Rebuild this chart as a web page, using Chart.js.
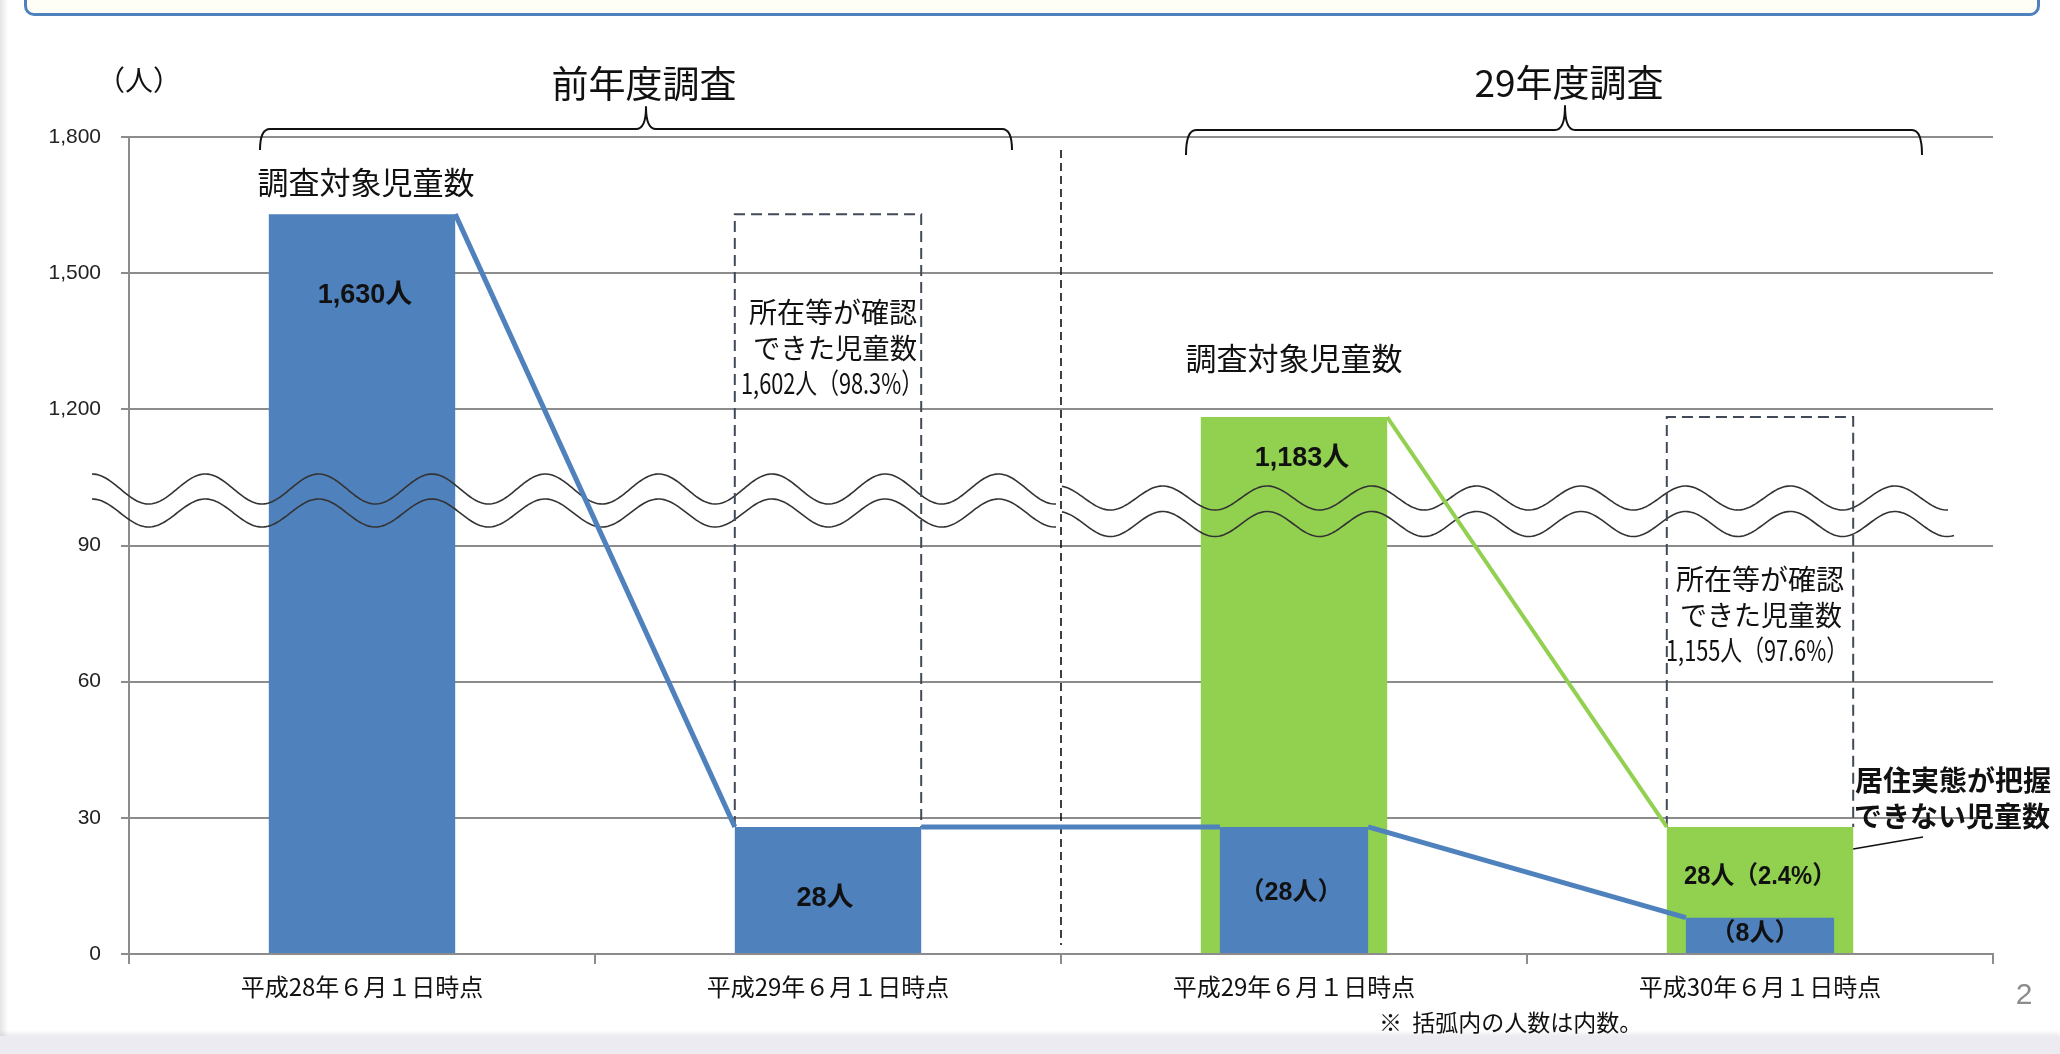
<!DOCTYPE html>
<html><head><meta charset="utf-8">
<script src="https://cdn.jsdelivr.net/npm/chart.js@4.4.1/dist/chart.umd.min.js"></script>
<style>
html,body{margin:0;padding:0;background:#fff;width:2060px;height:1054px;overflow:hidden;position:relative;}
#topbox{position:absolute;left:24px;top:-30px;width:2010px;height:40px;border:3px solid #4f81bd;border-radius:10px;background:#fffef6;}
#leftedge{position:absolute;left:0;top:0;width:8px;height:1036px;background:linear-gradient(to right,#e4e4e8,#ffffff);}
#bottomband{position:absolute;left:0;top:1036px;width:2060px;height:18px;background:#ebebf1;box-shadow:0 -3px 4px rgba(0,0,0,0.08);}
canvas{position:absolute;left:0;top:0;}
</style></head>
<body>
<div id="topbox"></div><div id="leftedge"></div><div id="bottomband"></div>
<canvas id="c" width="2060" height="1054"></canvas>
<script>
// ---- data ----
const categories = ['平成28年６月１日時点', '平成29年６月１日時点', '平成29年６月１日時点', '平成30年６月１日時点'];
const prevSurvey = [1630, 28, null, null];      // 前年度調査 (blue)
const currSurvey = [null, null, 1183, 28];      // 29年度調査 (green)
const innerCount = [null, null, 28, 8];         // 内数 (blue inside green)
const confirmedCount = [null, 1602, null, 1155]; // 所在等が確認できた児童数 (dashed box)
const yTickLabels = ['0', '30', '60', '90', '1,200', '1,500', '1,800'];

// broken axis: 0-100 linear, upper part 1,200-1,800 compressed by 10
function toAxis(v) { if (v == null) return null; return v <= 100 ? v : 120 + (v - 1200) / 10; }

const CJK = '"Noto Sans CJK JP"';
const BOLD = 'bold 27px "Liberation Sans", "Noto Sans CJK JP"';
const BOLD_S = 'bold 25px "Liberation Sans", "Noto Sans CJK JP"';

function txt(ctx, s, x, y, font, color, align, maxW) {
  ctx.font = font; ctx.fillStyle = color; ctx.textAlign = align || 'center'; ctx.textBaseline = 'middle';
  if (maxW) ctx.fillText(s, x, y, maxW); else ctx.fillText(s, x, y);
}
function wave(ctx, x0, x1, yc, amp, period, phaseX) {
  ctx.beginPath();
  for (let x = x0; x <= x1; x += 2) {
    const yy = yc - amp * Math.cos(2 * Math.PI * (x - phaseX) / period);
    if (x === x0) ctx.moveTo(x, yy); else ctx.lineTo(x, yy);
  }
  ctx.stroke();
}
function brace(ctx, x1, x2, xc, yLine, yEnd, yTip) {
  const r = 10;
  ctx.beginPath();
  ctx.moveTo(x1, yEnd);
  ctx.quadraticCurveTo(x1, yLine, x1 + r, yLine);
  ctx.lineTo(xc - r, yLine);
  ctx.quadraticCurveTo(xc, yLine, xc, yTip);
  ctx.quadraticCurveTo(xc, yLine, xc + r, yLine);
  ctx.lineTo(x2 - r, yLine);
  ctx.quadraticCurveTo(x2, yLine, x2, yEnd);
  ctx.stroke();
}

const annot = {
  id: 'annot',
  afterDatasetsDraw(chart) {
    const ctx = chart.ctx, xs = chart.scales.x, ys = chart.scales.y;
    const mPrev = chart.getDatasetMeta(0), mCurr = chart.getDatasetMeta(1), mIn = chart.getDatasetMeta(2);
    const R = el => [el.x + el.width / 2, el.y];
    const L = el => [el.x - el.width / 2, el.y];
    ctx.save();
    // wavy break lines
    ctx.strokeStyle = '#333'; ctx.lineWidth = 1.6;
    wave(ctx, 92, 1057, 489, 15, 113.3, 92);
    wave(ctx, 92, 1057, 513, 14, 113.3, 92);
    wave(ctx, 1062, 1948, 498, 12, 104.6, 1058);
    wave(ctx, 1062, 1954, 524, 12.5, 104.6, 1058);
    // dashed boxes (confirmed counts)
    ctx.strokeStyle = '#424a58'; ctx.lineWidth = 2; ctx.setLineDash([11, 6]);
    confirmedCount.forEach((c, i) => {
      if (c == null) return;
      const barVal = prevSurvey[i] != null ? prevSurvey[i] : currSurvey[i];
      const el = (prevSurvey[i] != null ? mPrev : mCurr).data[i];
      const top = ys.getPixelForValue(toAxis(c + barVal));
      const l = el.x - el.width / 2, r = el.x + el.width / 2;
      ctx.beginPath(); ctx.moveTo(l, el.y); ctx.lineTo(l, top); ctx.lineTo(r, top); ctx.lineTo(r, el.y); ctx.stroke();
    });
    // divider between surveys
    ctx.strokeStyle = '#111'; ctx.lineWidth = 1.6; ctx.setLineDash([8, 5]);
    const xd = xs.getPixelForValue(1.5);
    ctx.beginPath(); ctx.moveTo(xd, 150); ctx.lineTo(xd, 945); ctx.stroke();
    ctx.setLineDash([]);
    // connecting lines
    ctx.lineJoin = 'round'; ctx.lineCap = 'butt';
    ctx.strokeStyle = '#92d050'; ctx.lineWidth = 4;
    let a = R(mCurr.data[2]), b = L(mCurr.data[3]);
    ctx.beginPath(); ctx.moveTo(a[0], a[1]); ctx.lineTo(b[0], b[1]); ctx.stroke();
    ctx.strokeStyle = '#4f81bd'; ctx.lineWidth = 5;
    const segs = [[R(mPrev.data[0]), L(mPrev.data[1])], [R(mPrev.data[1]), L(mIn.data[2])], [R(mIn.data[2]), L(mIn.data[3])]];
    segs.forEach(s => { ctx.beginPath(); ctx.moveTo(s[0][0], s[0][1]); ctx.lineTo(s[1][0], s[1][1]); ctx.stroke(); });
    // callout
    ctx.strokeStyle = '#111'; ctx.lineWidth = 1.6;
    const ge = mCurr.data[3];
    ctx.beginPath(); ctx.moveTo(ge.x + ge.width / 2, 849); ctx.lineTo(1923, 837); ctx.stroke();
    // braces
    ctx.strokeStyle = '#111'; ctx.lineWidth = 2;
    brace(ctx, 260, 1012, 646, 129, 150, 107);
    brace(ctx, 1186, 1922, 1565, 130, 155, 106);
    ctx.restore();
  },
  afterDraw(chart) {
    const ctx = chart.ctx, xs = chart.scales.x;
    const cx = i => xs.getPixelForValue(i);
    ctx.save();
    txt(ctx, '（人）', 139, 80, '28px ' + CJK, '#111');
    txt(ctx, '前年度調査', 644, 84, '37px ' + CJK, '#111');
    txt(ctx, '29年度調査', 1569, 83, '37px ' + CJK, '#111');
    txt(ctx, '調査対象児童数', 366, 182, '31px ' + CJK, '#111', 'center', 220);
    txt(ctx, '調査対象児童数', 1294, 358, '31px ' + CJK, '#111', 'center', 220);
    txt(ctx, '1,630人', cx(0) + 3, 296, BOLD, '#111');
    txt(ctx, '所在等が確認', cx(1) + 5, 312, '28px ' + CJK, '#111', 'center', 173);
    txt(ctx, 'できた児童数', cx(1) + 7, 348, '28px ' + CJK, '#111', 'center', 164);
    txt(ctx, '1,602人（98.3%）', cx(1) + 4, 383, '28px ' + CJK, '#111', 'center', 182);
    txt(ctx, '28人', cx(1) - 3, 899, BOLD, '#111');
    txt(ctx, '1,183人', cx(2) + 8, 459, BOLD, '#111');
    txt(ctx, '（28人）', cx(2) - 3, 893, BOLD_S, '#111');
    txt(ctx, '所在等が確認', cx(3), 579, '28px ' + CJK, '#111', 'center', 173);
    txt(ctx, 'できた児童数', cx(3) + 1, 615, '28px ' + CJK, '#111', 'center', 162);
    txt(ctx, '1,155人（97.6%）', cx(3) - 3, 650, '28px ' + CJK, '#111', 'center', 182);
    txt(ctx, '28人（2.4%）', cx(3), 877, BOLD_S, '#111', 'center', 152);
    txt(ctx, '（8人）', cx(3) - 5, 934, BOLD_S, '#111');
    txt(ctx, '居住実態が把握', 1953, 780, 'bold 28px ' + CJK, '#111', 'center', 203);
    txt(ctx, 'できない児童数', 1952, 816, 'bold 28px ' + CJK, '#111', 'center', 197);
    txt(ctx, '※  括弧内の人数は内数。', 1379, 1022, '23px ' + CJK, '#111', 'left', 268);
    txt(ctx, '2', 2024, 996, '30px "Liberation Sans"', '#8c8c8c');
    ctx.restore();
  }
};

new Chart(document.getElementById('c'), {
  type: 'bar',
  data: {
    labels: categories,
    datasets: [
      { label: '前年度調査', data: prevSurvey.map(toAxis), backgroundColor: '#4f81bd', barPercentage: 0.4, categoryPercentage: 1, grouped: false, order: 3 },
      { label: '29年度調査', data: currSurvey.map(toAxis), backgroundColor: '#92d050', barPercentage: 0.4, categoryPercentage: 1, grouped: false, order: 2 },
      { label: '内数', data: innerCount.map(toAxis), backgroundColor: '#4f81bd', barPercentage: 0.318, categoryPercentage: 1, grouped: false, order: 1 }
    ]
  },
  options: {
    responsive: false, animation: false, devicePixelRatio: 1,
    layout: { padding: { top: 137, right: 67, left: 0, bottom: 0 } },
    plugins: { legend: { display: false }, tooltip: { enabled: false } },
    scales: {
      x: {
        grid: { drawOnChartArea: false, drawTicks: true, tickLength: 10, color: '#8c8c8c', lineWidth: 2, offset: true },
        border: { color: '#8c8c8c', width: 2 },
        ticks: { font: { family: 'Noto Sans CJK JP', size: 24 }, color: '#111', padding: 8, maxRotation: 0 },
        afterFit(s) { s.height = 100; }
      },
      y: {
        min: 0, max: 180,
        ticks: { stepSize: 30, callback: (v, i) => yTickLabels[i], font: { family: 'Liberation Sans', size: 21 }, color: '#222', padding: 20 },
        grid: { color: '#8c8c8c', lineWidth: 2, tickLength: 8 },
        border: { color: '#8c8c8c', width: 2 },
        afterFit(s) { s.width = 129; }
      }
    }
  },
  plugins: [annot]
});
</script>
</body></html>
